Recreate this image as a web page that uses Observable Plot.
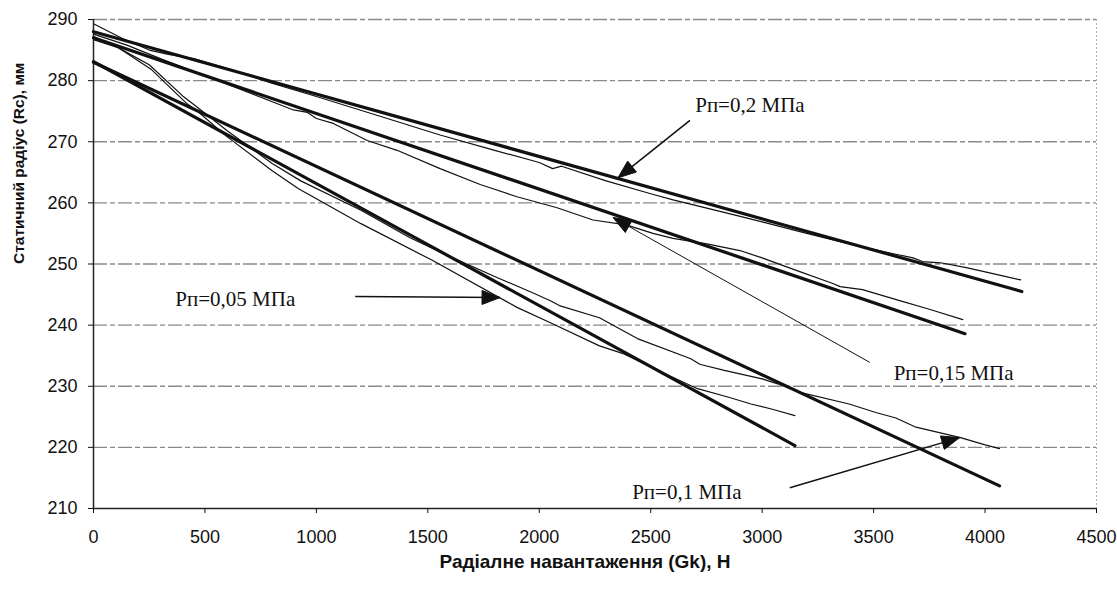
<!DOCTYPE html>
<html><head><meta charset="utf-8">
<script src="https://cdn.jsdelivr.net/npm/d3@7"></script>
<script src="https://cdn.jsdelivr.net/npm/@observablehq/plot@0.6"></script>
<style>
html,body{margin:0;padding:0;background:#fff;}
#chart svg{display:block;}
</style></head><body><div id="chart"></div>
<script>
// ---- axis ticks ----
const xTicks = [0, 500, 1000, 1500, 2000, 2500, 3000, 3500, 4000, 4500];
const yTicks = [210, 220, 230, 240, 250, 260, 270, 280, 290];
const xTitle = "Радіалне навантаження (Gk), Н";
const yTitle = "Статичний радіус (Rc), мм";

// ---- regression (thick) lines, one per tyre pressure ----
const pressures = ["0,2", "0,15", "0,1", "0,05"];
const fitStartX = [0, 0, 0, 0];
const fitStartY = [288.0, 287.0, 283.0, 283.1];
const fitEndX   = [4165, 3910, 4065, 3147];
const fitEndY   = [245.5, 238.6, 213.7, 220.3];

// ---- experimental (thin) curves ----
const exp02X = [0,130,250,336,450,636,800,1000,1300,1555,1800,2000,2060,2100,2300,2500,2600,2825,3000,3200,3400,3600,3677,3720,3800,3916,4050,4160];
const exp02Y = [289.3,286.9,285.0,284.3,283.6,281.6,279.6,277.4,274.0,271.1,268.6,266.6,265.6,266.0,263.6,261.5,260.5,258.5,256.9,255.0,253.2,251.6,251.0,250.4,250.2,249.4,248.3,247.4];

const exp015X = [0,150,300,600,897,960,1000,1076,1228,1362,1555,1735,1900,2080,2241,2390,2510,2600,2752,2900,3000,3150,3317,3350,3450,3617,3750,3900];
const exp015Y = [287.6,285.8,283.6,279.4,275.2,274.8,273.8,273.0,270.2,268.6,265.6,263.0,261.0,259.2,257.2,256.4,255.0,254.2,253.3,252.2,251.0,249.0,246.8,246.3,245.8,244.0,242.6,240.9];

const exp01X = [0,100,250,400,460,600,800,930,1200,1420,1600,1810,1970,2050,2090,2270,2440,2680,2720,2830,3000,3070,3170,3390,3510,3600,3690,3890,4000,4065];
const exp01Y = [287.2,285.6,282.6,277.5,275.8,271.8,266.5,263.6,258.8,254.3,251.2,247.8,245.3,244.0,243.2,241.2,237.8,234.5,233.6,232.6,231.2,230.4,229.0,227.1,225.7,224.8,223.3,221.6,220.4,219.8];

const exp005X = [0,110,260,420,460,600,800,920,1200,1520,1900,2050,2270,2380,2550,2710,2850,2950,3050,3147];
const exp005Y = [286.7,285.4,281.8,276.2,275.2,270.8,265.3,262.3,256.6,250.6,242.9,240.4,236.6,235.3,232.3,229.6,228.2,227.1,226.2,225.2];

// ---- annotations (data coordinates) ----
const noteText = ["Рп=0,2 МПа", "Рп=0,15 МПа", "Рп=0,1 МПа", "Рп=0,05 МПа"];
const noteX = [2945, 3859, 2662, 636];
const noteY = [275.9, 232.2, 212.7, 244.3];
const arrowFromX = [2676, 3483, 3124, 1174];
const arrowFromY = [273.5, 233.9, 213.4, 244.7];
const arrowToX   = [2353, 2331, 3886, 1824];
const arrowToY   = [264.1, 257.6, 221.6, 244.5];
const arrowWidth = [1.5, 1, 1.5, 1.5];

// ---- build tables ----
const fits = pressures.map((p, i) => ({p, x1: fitStartX[i], y1: fitStartY[i], x2: fitEndX[i], y2: fitEndY[i]}));
const expSeries = [[exp02X, exp02Y], [exp015X, exp015Y], [exp01X, exp01Y], [exp005X, exp005Y]];
const expData = expSeries.flatMap(([xs, ys], i) => xs.map((x, j) => ({p: pressures[i], x, y: ys[j]})));
const notes = noteText.map((t, i) => ({t, x: noteX[i], y: noteY[i]}));
const arrows = noteText.map((t, i) => ({x1: arrowFromX[i], y1: arrowFromY[i], x2: arrowToX[i], y2: arrowToY[i], w: arrowWidth[i]}));

function arrowHeads(index, scales, values, dimensions, context, next) {
  const g = next(index, scales, values, dimensions, context);
  const X1 = values.x1, Y1 = values.y1, X2 = values.x2, Y2 = values.y2;
  if (!X1 || !X2) return g;
  for (const i of index) {
    const dx = X2[i] - X1[i], dy = Y2[i] - Y1[i];
    const len = Math.hypot(dx, dy);
    const ux = dx / len, uy = dy / len;
    const L = 18, W = 7;
    const bx = X2[i] - ux * L, by = Y2[i] - uy * L;
    const pts = [[X2[i], Y2[i]], [bx - uy * W, by + ux * W], [bx + uy * W, by - ux * W]];
    const poly = document.createElementNS("http://www.w3.org/2000/svg", "polygon");
    poly.setAttribute("points", pts.map(p => p.join(",")).join(" "));
    poly.setAttribute("fill", "#111");
    g.appendChild(poly);
  }
  return g;
}

const chart = Plot.plot({
  width: 1117,
  height: 590,
  marginLeft: 93,
  marginRight: 21,
  marginTop: 19,
  marginBottom: 82,
  x: {domain: [0, 4500]},
  y: {domain: [210, 290]},
  style: {fontFamily: "'Liberation Sans', Arial, sans-serif", fontSize: "18px", color: "#111", background: "#fff", overflow: "visible"},
  marks: [
    Plot.ruleY(yTicks.filter(d => d > 210), {stroke: "#8a8a8a", strokeWidth: 1.3, strokeDasharray: "14,3,5,3"}),
    Plot.ruleX([4500], {stroke: "#b0b0b0", strokeWidth: 1, strokeDasharray: "2,2"}),
    Plot.ruleY([210], {stroke: "#222", strokeWidth: 1.5}),
    Plot.ruleX([0], {stroke: "#222", strokeWidth: 1.5}),
    Plot.axisX(xTicks, {tickSize: 5, tickPadding: 17, label: null, fontSize: 18, tickFormat: d => String(d)}),
    Plot.axisY(yTicks, {tickSize: 5, tickPadding: 11, label: null, fontSize: 18, tickFormat: d => String(d)}),
    Plot.line(expData, {x: "x", y: "y", z: "p", stroke: "#111", strokeWidth: 1.2}),
    Plot.link(fits, {x1: "x1", y1: "y1", x2: "x2", y2: "y2", stroke: "#111", strokeWidth: 3.2, strokeLinecap: "round"}),
    Plot.link(arrows, {x1: "x1", y1: "y1", x2: "x2", y2: "y2", stroke: "#111", strokeWidth: "w", render: arrowHeads}),
    Plot.text(notes, {x: "x", y: "y", text: "t", fontFamily: "'Liberation Serif', 'Times New Roman', serif", fontSize: 21, fill: "#111", textAnchor: "middle", lineAnchor: "middle"}),
    Plot.text([xTitle], {frameAnchor: "bottom", dy: 59, dx: -10, fontWeight: "bold", fontSize: 19, fill: "#111"}),
    Plot.text([yTitle], {frameAnchor: "left", dx: -74, rotate: -90, fontWeight: "bold", fontSize: 15.5, fill: "#111"})
  ]
});
document.getElementById("chart").appendChild(chart);
</script>
</body></html>
